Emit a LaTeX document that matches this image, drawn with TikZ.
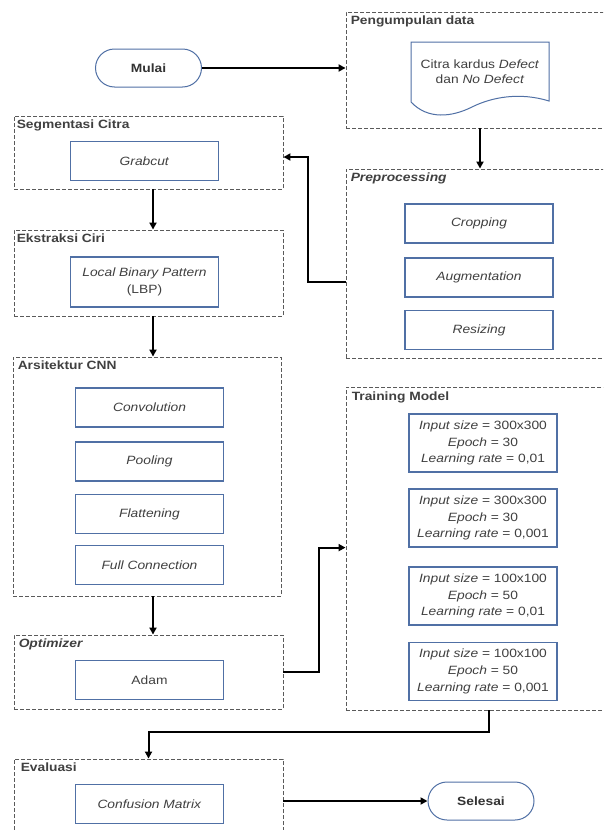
\documentclass[tikz,border=0pt]{standalone}
\usepackage{fontspec}
\setmainfont{Liberation Sans}[FakeStretch=1.15]
\usetikzlibrary{arrows.meta,positioning,calc}
\definecolor{boxblue}{RGB}{80,112,165}
\definecolor{textgray}{RGB}{64,64,64}
\definecolor{dashgray}{RGB}{90,90,90}

\begin{document}
\begin{tikzpicture}[
  x=1pt, y=-1pt,
  every node/.style={font=\fontsize{12}{16.7}\selectfont, text=textgray},
  group/.style={draw=dashgray, line width=0.9pt, dash pattern=on 4pt off 2pt, inner sep=0pt},
  grouptitle/.style={anchor=north west, inner sep=2pt, font=\fontsize{12}{14}\selectfont\bfseries},
  procbox/.style={draw=boxblue, line width=1.2pt, minimum width=148pt, minimum height=39pt, align=center, inner sep=2pt},
  terminal/.style={draw=boxblue, line width=1pt, rounded corners=19pt, minimum width=106pt, minimum height=38pt, text=black!80, font=\fontsize{12}{14}\selectfont\bfseries},
  arr/.style={draw=black, line width=2pt, -{Triangle[length=7pt,width=7pt]}},
  ]

\useasboundingbox (0,0) rectangle (603,830);
\clip (0,0) rectangle (603,830);
\fill[white] (0,0) rectangle (603,830);

% groups
\node[group, minimum width=260pt, minimum height=116pt] (pd) at (476,70) {};
\node[group, minimum width=269pt, minimum height=73pt] (seg) at (148.5,152.5) {};
\node[group, minimum width=260pt, minimum height=189pt] (pre) at (476,263.5) {};
\node[group, minimum width=269pt, minimum height=86pt] (eks) at (148.5,273) {};
\node[group, minimum width=268pt, minimum height=239pt] (cnn) at (147,476.5) {};
\node[group, minimum width=260pt, minimum height=323pt] (train) at (476,548.5) {};
\node[group, minimum width=269pt, minimum height=74pt] (opt) at (148.5,672) {};
\node[group, minimum width=269pt, minimum height=91pt] (eva) at (148.5,804.5) {};

% group titles
\node[grouptitle] (pdtitle) at ([shift={(3pt,-2pt)}]pd.north west) {Pengumpulan data};
\node[grouptitle] (segtitle) at ([shift={(1pt,-2pt)}]seg.north west) {Segmentasi Citra};
\node[grouptitle] (pretitle) at ([shift={(3pt,-2pt)}]pre.north west) {\textit{Preprocessing}};
\node[grouptitle] (ekstitle) at ([shift={(1pt,-2pt)}]eks.north west) {Ekstraksi Ciri};
\node[grouptitle] (cnntitle) at ([shift={(3pt,-2pt)}]cnn.north west) {Arsitektur CNN};
\node[grouptitle] (traintitle) at ([shift={(4pt,-3pt)}]train.north west) {Training Model};
\node[grouptitle] (opttitle) at ([shift={(3pt,-2pt)}]opt.north west) {\textit{Optimizer}};
\node[grouptitle] (evatitle) at ([shift={(5pt,-2pt)}]eva.north west) {Evaluasi};

% start / end
\node[terminal] (mulai) at (148.5,68) {Mulai};
\node[terminal] (selesai) at (481,801) {Selesai};

% data document
\draw[boxblue, line width=1pt] (411,42) -- (549,42) -- (549,101)
  .. controls (520,92) and (492,97) .. (472,107)
  .. controls (452,117) and (428,120) .. (411,102) -- cycle;
\node[align=center, font=\fontsize{12}{15.3}\selectfont] (doc) at (480,72) {Citra kardus \textit{Defect}\\dan \textit{No Defect}};

% process boxes
\node[procbox] (grab) at (144.5,161) {\textit{Grabcut}};
\node[procbox, minimum height=50pt] (lbp) at (144.5,282) {\textit{Local Binary Pattern}\\(LBP)};

\node[procbox] (crop) at (479,223.5) {\textit{Cropping}};
\node[procbox] (aug) at (479,277.5) {\textit{Augmentation}};
\node[procbox] (res) at (479,330) {\textit{Resizing}};

\node[procbox] (conv) at (149.5,407.5) {\textit{Convolution}};
\node[procbox] (pool) at (149.5,461.5) {\textit{Pooling}};
\node[procbox] (flat) at (149.5,514) {\textit{Flattening}};
\node[procbox] (full) at (149.5,565) {\textit{Full Connection}};

\node[procbox] (adam) at (149.5,680) {Adam};
\node[procbox] (cm) at (149.5,804) {\textit{Confusion Matrix}};

\node[procbox, minimum height=58pt] (t1) at (483,443) {\textit{Input size} = 300x300\\\textit{Epoch} = 30\\\textit{Learning rate} = 0,01};
\node[procbox, minimum height=58pt] (t2) at (483,518) {\textit{Input size} = 300x300\\\textit{Epoch} = 30\\\textit{Learning rate} = 0,001};
\node[procbox, minimum height=58pt] (t3) at (483,596) {\textit{Input size} = 100x100\\\textit{Epoch} = 50\\\textit{Learning rate} = 0,01};
\node[procbox, minimum height=58pt] (t4) at (483,671.5) {\textit{Input size} = 100x100\\\textit{Epoch} = 50\\\textit{Learning rate} = 0,001};

% connectors
\draw[arr] (mulai.east) -- (mulai.east -| pd.west);
\draw[arr] (pd.south -| doc) -- (pre.north -| doc);
\draw[arr] ($(aug.west -| pre.west)+(0,4.5)$) -- ++(-38,0) |- ($(seg.east)+(0,4.5)$);
\draw[arr] ([xshift=4.5pt]seg.south) -- ([xshift=4.5pt]eks.north);
\draw[arr] ([xshift=4.5pt]eks.south) -- ([xshift=6pt]cnn.north);
\draw[arr] ([xshift=6pt]cnn.south) -- ([xshift=4.5pt]opt.north);
\draw[arr] (opt.east) -- ++(36,0) |- (t2.south -| train.west);
\draw[arr] ([xshift=6pt]train.south -| t4) -- ++(0,22) -| (eva.north);
\draw[arr] (selesai -| eva.east) -- (selesai.west);

\end{tikzpicture}
\end{document}
